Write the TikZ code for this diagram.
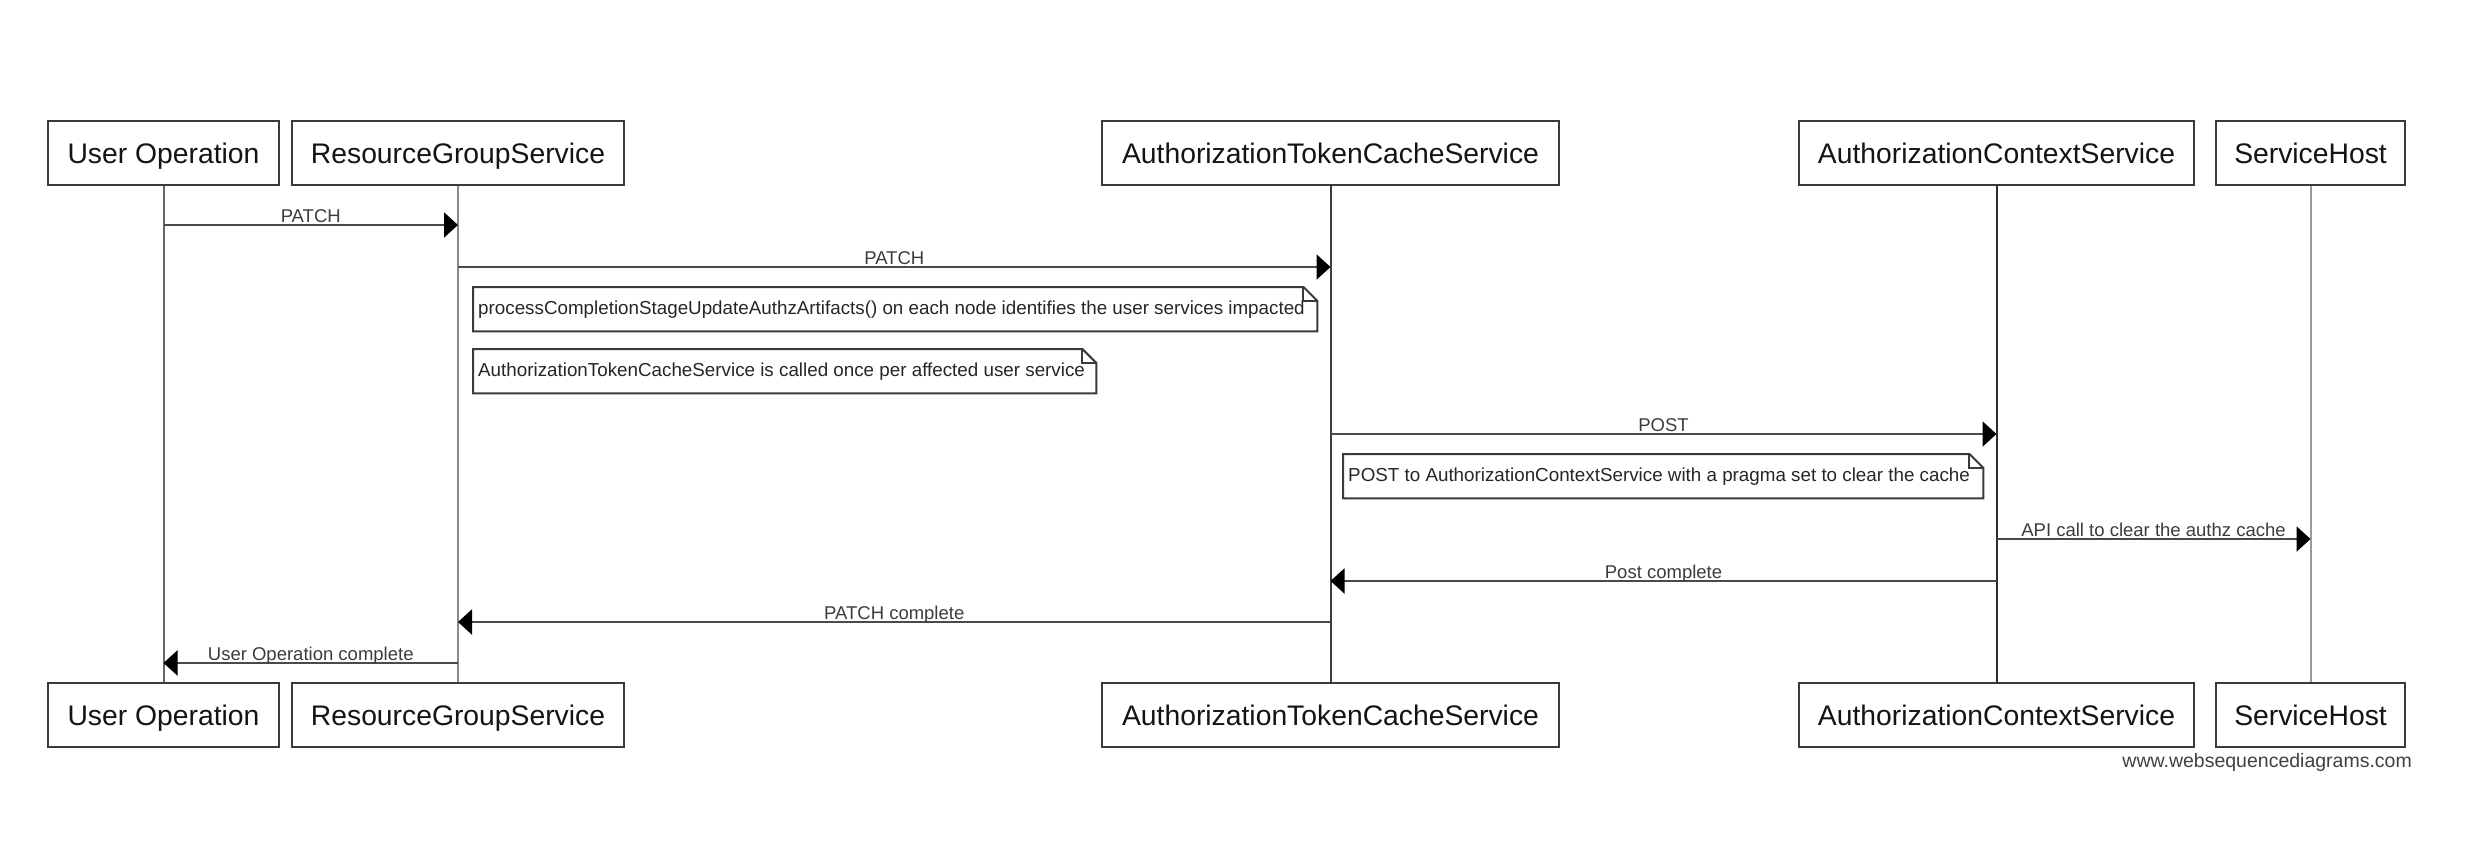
\documentclass[tikz,border=0pt]{standalone}
\usepackage{fontspec}
\setmainfont{Liberation Sans}
\usetikzlibrary{arrows.meta}
\definecolor{boxline}{HTML}{3A3A3A}
\definecolor{msgline}{HTML}{4A4A4A}
\definecolor{msgtext}{HTML}{3C3C3C}
\definecolor{lifeA}{HTML}{666666}
\definecolor{lifeB}{HTML}{8A8A8A}
\definecolor{lifeC}{HTML}{3C3C3C}
\definecolor{lifeD}{HTML}{2E2E2E}
\definecolor{lifeE}{HTML}{9A9A9A}
% outline of a note with a folded top-right corner
\newcommand\drawnote[1]{%
  \draw[noteline] (#1.north west) -- ([xshift=-14pt]#1.north east)
    -- ([yshift=-14pt]#1.north east) -- (#1.south east) -- (#1.south west) -- cycle;
  \draw[noteline] ([xshift=-14pt]#1.north east) |- ([yshift=-14pt]#1.north east);
}
\begin{document}
\begin{tikzpicture}[x=1pt,y=-1pt,
  actor/.style={draw=boxline, line width=2.2pt, fill=white, minimum height=64pt,
    inner sep=0pt, text height=24pt, text depth=4pt,
    font=\fontsize{28.3}{34}\selectfont, text=black!92},
  life/.style={line width=2pt},
  msg/.style={draw=msgline, line width=2.2pt,
    -{Triangle[length=14pt,width=25pt,color=black]}},
  msglabel/.style={anchor=base, yshift=3pt, inner sep=0pt,
    font=\fontsize{18.5}{22}\selectfont, text=msgtext},
  notebox/.style={inner sep=0pt, minimum height=44pt, anchor=north west,
    text height=14pt, text depth=4pt,
    font=\fontsize{18.8}{22}\selectfont, text=black!85},
  noteline/.style={draw=boxline, line width=2pt, line join=miter},
]
\useasboundingbox (0,0) rectangle (2478,848);

% participants, top row
\node[actor, minimum width=231pt] (uoT)   at (163.5,153) {User Operation};
\node[actor, minimum width=332pt] (rgsT)  at (458,153)   {ResourceGroupService};
\node[actor, minimum width=457pt] (atcT)  at (1330.5,153) {AuthorizationTokenCacheService};
\node[actor, minimum width=395pt] (acsT)  at (1996.5,153) {AuthorizationContextService};
\node[actor, minimum width=189pt] (shT)   at (2310.5,153) {ServiceHost};

% participants, bottom row
\node[actor, minimum width=231pt] (uoB)   at (163.5,715) {User Operation};
\node[actor, minimum width=332pt] (rgsB)  at (458,715)   {ResourceGroupService};
\node[actor, minimum width=457pt] (atcB)  at (1330.5,715) {AuthorizationTokenCacheService};
\node[actor, minimum width=395pt] (acsB)  at (1996.5,715) {AuthorizationContextService};
\node[actor, minimum width=189pt] (shB)   at (2310.5,715) {ServiceHost};

% lifelines
\draw[life, draw=lifeA] (uoT.south)  -- (uoB.north);
\draw[life, draw=lifeB] (rgsT.south) -- (rgsB.north);
\draw[life, draw=lifeC] (atcT.south) -- (atcB.north);
\draw[life, draw=lifeD] (acsT.south) -- (acsB.north);
\draw[life, draw=lifeE] (shT.south)  -- (shB.north);

% messages
\draw[msg] (uoT.south |- 0,225) -- node[msglabel] {PATCH} (rgsT.south |- 0,225);
\draw[msg] (rgsT.south |- 0,267) -- node[msglabel] {PATCH} (atcT.south |- 0,267);

\node[notebox, minimum width=844pt] (n1) at (473,287)
  {\makebox[844pt][l]{\hspace{5pt}processCompletionStageUpdateAuthzArtifacts() on each node identifies the user services impacted}};
\drawnote{n1}
\node[notebox, minimum width=623pt] (n2) at (473,349)
  {\makebox[623pt][l]{\hspace{5pt}AuthorizationTokenCacheService is called once per affected user service}};
\drawnote{n2}

\draw[msg] (atcT.south |- 0,434) -- node[msglabel] {POST} (acsT.south |- 0,434);

\node[notebox, minimum width=640pt] (n3) at (1343,454)
  {\makebox[640pt][l]{\hspace{5pt}POST to AuthorizationContextService with a pragma set to clear the cache}};
\drawnote{n3}

\draw[msg] (acsT.south |- 0,539) -- node[msglabel] {API call to clear the authz cache} (shT.south |- 0,539);
\draw[msg] (acsT.south |- 0,581) -- node[msglabel] {Post complete} (atcT.south |- 0,581);
\draw[msg] (atcT.south |- 0,622) -- node[msglabel] {PATCH complete} (rgsT.south |- 0,622);
\draw[msg] (rgsT.south |- 0,663) -- node[msglabel] {User Operation complete} (uoT.south |- 0,663);

% footer
\node[anchor=base east, inner sep=0pt, font=\fontsize{19.5}{23}\selectfont, text=black!75]
  (wsd) at (2412,767) {www.websequencediagrams.com};
\end{tikzpicture}
\end{document}
